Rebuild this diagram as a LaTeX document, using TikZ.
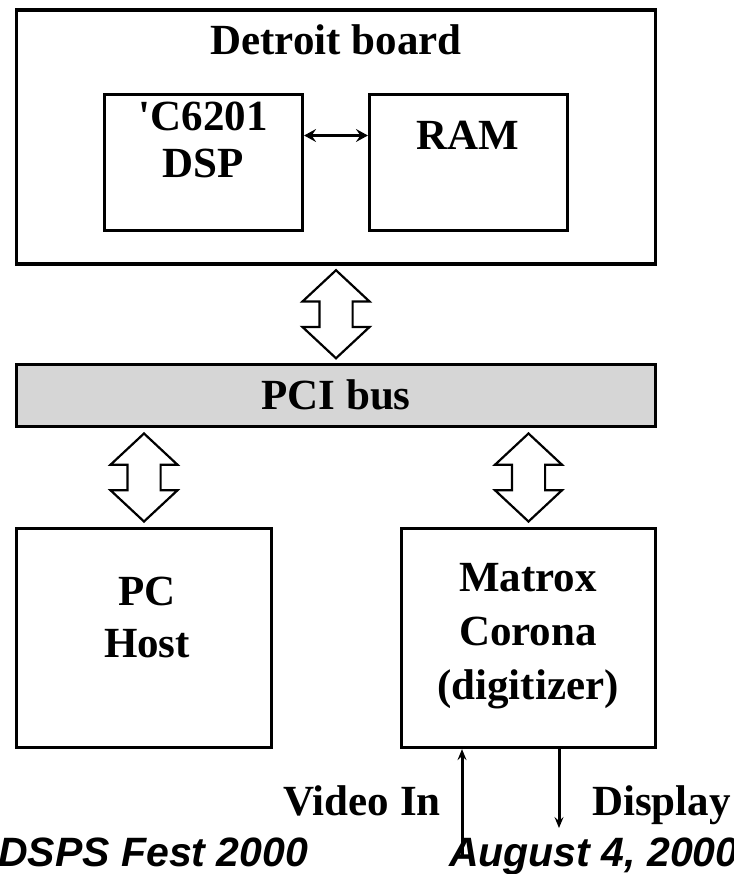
\documentclass[tikz,border=0pt]{standalone}
\usepackage{fontspec}
\setmainfont{Liberation Serif}
\newfontfamily\footfont{Liberation Sans}
\usetikzlibrary{arrows.meta,positioning,shapes.arrows,calc}
\definecolor{busGray}{HTML}{D6D6D6}

\begin{document}
\begin{tikzpicture}[x=1pt, y=-1pt,
  box/.style={rectangle, draw=black, line width=3.2pt, inner sep=0pt},
  lbl/.style={font=\fontsize{43}{#1}\selectfont\bfseries, align=center, inner sep=0pt},
  lbl/.default=49,
  foot/.style={font=\fontsize{41}{41}\selectfont\footfont\bfseries\itshape, inner sep=0pt},
  fat/.style={double arrow, draw=black, fill=white, line width=2.2pt, rotate=90, inner xsep=0pt, inner ysep=15.5pt, double arrow head extend=17pt, double arrow tip angle=94, minimum height=88pt},
  arrow/.style={draw=black, line width=3pt, -{Stealth[length=11pt, width=9pt, inset=4pt]}},
  link/.style={draw=black, line width=3pt, {Stealth[length=12pt, width=13pt, inset=4.5pt]}-{Stealth[length=12pt, width=13pt, inset=4.5pt]}}
]
\useasboundingbox (0,0) rectangle (733,874);
% boards and bus
\node[box, minimum width=639pt, minimum height=254pt] (detroit) at (336,137) {};
\node[lbl, anchor=base] (detroitlbl) at (336,55) {Detroit board};
\node[box, minimum width=198pt, minimum height=136pt] (dsp) at (203.5,162.5) {};
\node[box, minimum width=198pt, minimum height=136pt] (ram) at (468.5,162.5) {};
\node[lbl=47] (dsplbl) at (203,139.5) {\textquotesingle C6201\\DSP};
\node[lbl] (ramlbl) at (468,135) {RAM};
\node[box, fill=busGray, minimum width=639pt, minimum height=62pt] (pci) at (336,395.5) {};
\node[lbl] (pcilbl) at (336,395) {PCI bus};
\node[box, minimum width=255pt, minimum height=219pt] (pc) at (144,638) {};
\node[box, minimum width=254pt, minimum height=219pt] (matrox) at (528.5,638) {};
\node[lbl=52] (pclbl) at (147,617) {PC\\Host};
\node[lbl=54] (matroxlbl) at (528,636) {Matrox\\Corona\\(digitizer)};
% bus connections
\node[fat] (dbus) at ($(detroit.south)!0.5!(pci.north)$) {};
\node[fat] (hbus) at ($(pci.south -| pc.north)!0.5!(pc.north)$) {};
\node[fat] (mbus) at ($(pci.south -| matrox.north)!0.5!(matrox.north)$) {};
\draw[link] ([yshift=27pt]dsp.east) -- ([yshift=27pt]ram.west);
% video lines
\coordinate (vidsrc) at (462,857);
\coordinate (dispdst) at (559,828);
\draw[arrow] (vidsrc) -- (vidsrc |- matrox.south);
\draw[arrow] (dispdst |- matrox.south) -- (dispdst);
\node[lbl, anchor=base east] (vidlbl) at (441,815) {Video In};
\node[lbl, anchor=base west] (displbl) at (592,815) {Display};
% footer
\node[foot, anchor=base west] (fest) at (-2,866) {DSPS Fest 2000};
\node[foot, anchor=base west] (date) at (449,866) {August 4, 2000};
\end{tikzpicture}
\end{document}
